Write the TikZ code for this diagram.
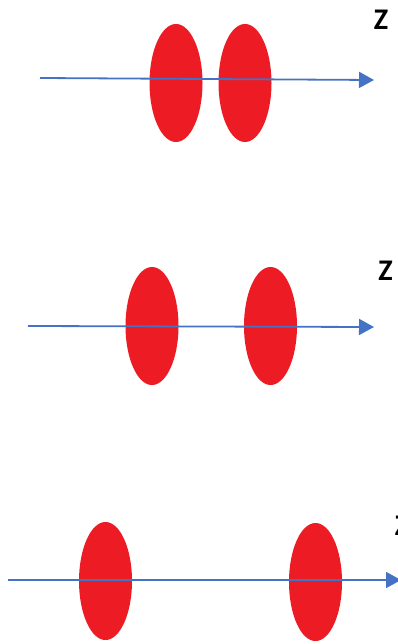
\documentclass[tikz,border=0pt]{standalone}
\usepackage{fontspec}
\setmainfont{Carlito}
\usetikzlibrary{shapes.geometric,arrows.meta}
\definecolor{lensred}{RGB}{237,28,36}
\definecolor{axisblue}{RGB}{68,114,196}
\begin{document}
\begin{tikzpicture}[x=1pt,y=-1pt,
  lens/.style={ellipse,fill=lensred,draw=none,minimum width=53pt,minimum height=118pt,inner sep=0pt},
  axis/.style={draw=axisblue,line width=1.8pt,-{Triangle[length=15pt,width=16pt]}},
  zlabel/.style={font=\bfseries\fontsize{30}{30}\selectfont,inner sep=0pt}]
\useasboundingbox (0,0) rectangle (398,644);
\clip (0,0) rectangle (398,644);
% panel 1
\node[lens] (a1) at (176,83) {};
\node[lens] (a2) at (245,83) {};
\coordinate (s1) at (40,78);
\coordinate (e1) at (374,80);
\draw[axis] (s1) -- (e1);
\node[zlabel] (z1) at (381,20) {Z};
% panel 2
\node[lens] (b1) at (152,326) {};
\node[lens] (b2) at (270.5,326) {};
\coordinate (s2) at (28,326);
\coordinate (e2) at (374,327);
\draw[axis] (s2) -- (e2);
\node[zlabel] (z2) at (385.5,271) {Z};
% panel 3
\node[lens] (c1) at (105.5,581) {};
\node[lens] (c2) at (315.5,582) {};
\coordinate (s3) at (8,580);
\coordinate (e3) at (401,580);
\draw[axis] (s3) -- (e3);
\node[zlabel] (z3) at (402,526) {Z};
\end{tikzpicture}
\end{document}
